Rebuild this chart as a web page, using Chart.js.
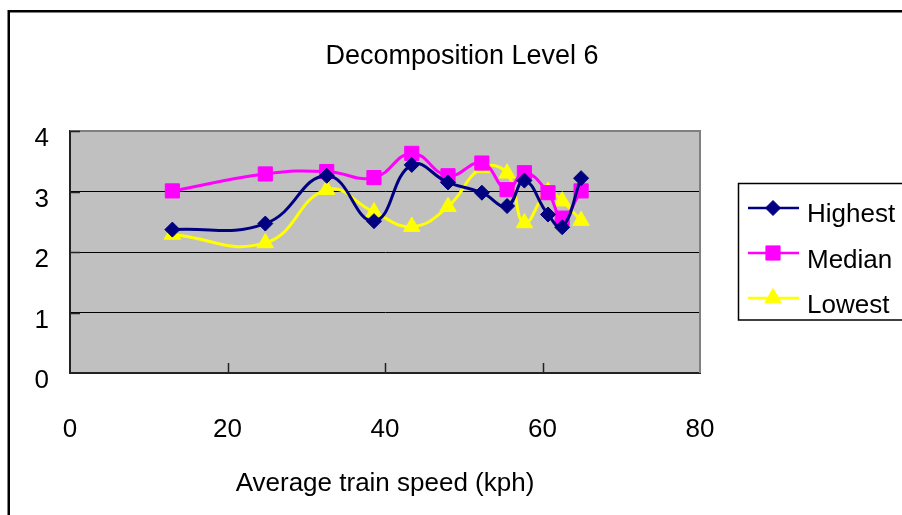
<!DOCTYPE html>
<html>
<head>
<meta charset="utf-8">
<script src="https://cdn.jsdelivr.net/npm/chart.js@4.4.1/dist/chart.umd.min.js"></script>
<style>
  html, body { margin: 0; padding: 0; background: #ffffff; }
  #wrap { width: 902px; height: 515px; position: relative; }
</style>
</head>
<body>
<div id="wrap"><canvas id="c" width="902" height="515"></canvas></div>
<script>
const chartTitle = 'Decomposition Level 6';
const xAxisTitle = 'Average train speed (kph)';
const seriesNames = ['Highest', 'Median', 'Lowest'];
const speeds  = [13.0, 24.8, 32.6, 38.6, 43.4, 48.0, 52.3, 55.5, 57.7, 60.7, 62.5, 64.9];
const highest = [2.37, 2.47, 3.26, 2.51, 3.44, 3.15, 2.98, 2.76, 3.18, 2.62, 2.41, 3.22];
const median  = [3.01, 3.29, 3.33, 3.23, 3.63, 3.26, 3.47, 3.03, 3.31, 2.98, 2.56, 3.01];
const lowest  = [2.29, 2.15, 3.03, 2.66, 2.42, 2.75, 3.39, 3.30, 2.48, 3.00, 2.84, 2.52];
const xTicks = [0, 20, 40, 60, 80];
const yTicks = [0, 1, 2, 3, 4];

const FONT = "'Liberation Sans', Arial, sans-serif";
const toPts = (ys) => speeds.map((x, i) => ({ x: x, y: ys[i] }));

const deco = {
  id: 'deco',
  beforeDraw(chart) {
    const { ctx, chartArea: a } = chart;
    ctx.save();
    ctx.strokeStyle = '#000';
    ctx.lineWidth = 2.5;
    ctx.strokeRect(8.75, 11.25, 1000, 1000);
    ctx.fillStyle = '#c0c0c0';
    ctx.fillRect(a.left, a.top, a.right - a.left, a.bottom - a.top);
    ctx.fillStyle = '#000';
    ctx.font = '27px ' + FONT;
    ctx.textAlign = 'center';
    ctx.textBaseline = 'middle';
    ctx.fillText(chartTitle, 462, 57);
    ctx.restore();
  },
  beforeDatasetsDraw(chart) {
    const { ctx, chartArea: a, scales } = chart;
    ctx.save();
    ctx.strokeStyle = '#808080';
    ctx.lineWidth = 2;
    ctx.beginPath();
    ctx.moveTo(a.left, a.top);
    ctx.lineTo(a.right, a.top);
    ctx.lineTo(a.right, a.bottom);
    ctx.stroke();
    ctx.strokeStyle = '#222';
    ctx.lineWidth = 1.5;
    ctx.beginPath();
    xTicks.slice(1, -1).forEach(v => {
      const px = Math.round(scales.x.getPixelForValue(v)) + 0.5;
      ctx.moveTo(px, a.bottom);
      ctx.lineTo(px, a.bottom - 10);
    });
    yTicks.slice(1).forEach(v => {
      const py = Math.round(scales.y.getPixelForValue(v)) + 0.5;
      ctx.moveTo(a.left, py);
      ctx.lineTo(a.left + 10, py);
    });
    ctx.stroke();
    ctx.restore();
  },
  afterDraw(chart) {
    const { ctx } = chart;
    ctx.save();
    ctx.fillStyle = '#fff';
    ctx.fillRect(738, 183, 200, 137);
    ctx.strokeStyle = '#000';
    ctx.lineWidth = 1.5;
    ctx.strokeRect(738.5, 183.5, 200, 136.5);
    const lineYs = [208, 253, 298];
    const textYs = [215, 261, 306];
    chart.data.datasets.forEach((ds, i) => {
      const y = lineYs[i];
      ctx.strokeStyle = ds.borderColor;
      ctx.lineWidth = 2.5;
      ctx.beginPath();
      ctx.moveTo(748, y);
      ctx.lineTo(799, y);
      ctx.stroke();
      ctx.fillStyle = ds.pointBackgroundColor;
      ctx.strokeStyle = ds.pointBorderColor;
      ctx.lineWidth = 1;
      Chart.helpers.drawPoint(ctx, { pointStyle: ds.pointStyle, radius: ds.pointRadius, rotation: 0, borderWidth: 1 }, 773, y);
      ctx.fillStyle = '#000';
      ctx.font = '26px ' + FONT;
      ctx.textAlign = 'left';
      ctx.textBaseline = 'middle';
      ctx.fillText(ds.label, 807, textYs[i]);
    });
    ctx.restore();
  }
};

const chart = new Chart(document.getElementById('c'), {
  type: 'line',
  data: {
    datasets: [
      {
        label: seriesNames[0], data: toPts(highest),
        borderColor: '#000080', backgroundColor: '#000080',
        pointBackgroundColor: '#000080', pointBorderColor: '#000080',
        pointStyle: 'rectRot', pointRadius: 7.5, pointBorderWidth: 1,
        borderWidth: 3, tension: 0.45
      },
      {
        label: seriesNames[1], data: toPts(median),
        borderColor: '#ff00ff', backgroundColor: '#ff00ff',
        pointBackgroundColor: '#ff00ff', pointBorderColor: '#ff00ff',
        pointStyle: 'rect', pointRadius: 10, pointBorderWidth: 1,
        borderWidth: 3, tension: 0.45
      },
      {
        label: seriesNames[2], data: toPts(lowest),
        borderColor: '#ffff00', backgroundColor: '#ffff00',
        pointBackgroundColor: '#ffff00', pointBorderColor: '#ffff00',
        pointStyle: 'triangle', pointRadius: 9.5, pointBorderWidth: 1,
        borderWidth: 3, tension: 0.45
      }
    ]
  },
  options: {
    responsive: false,
    animation: false,
    layout: { padding: { left: 10, right: 202, top: 131, bottom: 12 } },
    plugins: {
      legend: { display: false },
      title: { display: false },
      tooltip: { enabled: false }
    },
    scales: {
      x: {
        type: 'linear', min: 0, max: 80,
        afterFit(s) { s.height = 130; },
        afterBuildTicks(s) { s.ticks = xTicks.map(v => ({ value: v })); },
        grid: { color: 'rgba(0,0,0,0)', drawTicks: false },
        border: { display: true, color: '#222', width: 2 },
        ticks: { font: { size: 26, family: FONT }, color: '#000', padding: 41, maxRotation: 0 },
        title: { display: true, text: xAxisTitle, font: { size: 26, family: FONT }, color: '#000', padding: { top: 0, bottom: 4 } }
      },
      y: {
        min: 0, max: 4,
        afterFit(s) { s.width = 60; },
        afterBuildTicks(s) { s.ticks = yTicks.map(v => ({ value: v })); },
        grid: {
          drawTicks: false, lineWidth: 1,
          color: c => (c.tick && c.tick.value > 0 && c.tick.value < 4) ? '#000' : 'rgba(0,0,0,0)'
        },
        border: { display: true, color: '#222', width: 2 },
        ticks: { font: { size: 26, family: FONT }, color: '#000', padding: 21, labelOffset: 8 }
      }
    }
  },
  plugins: [deco]
});
</script>
</body>
</html>
